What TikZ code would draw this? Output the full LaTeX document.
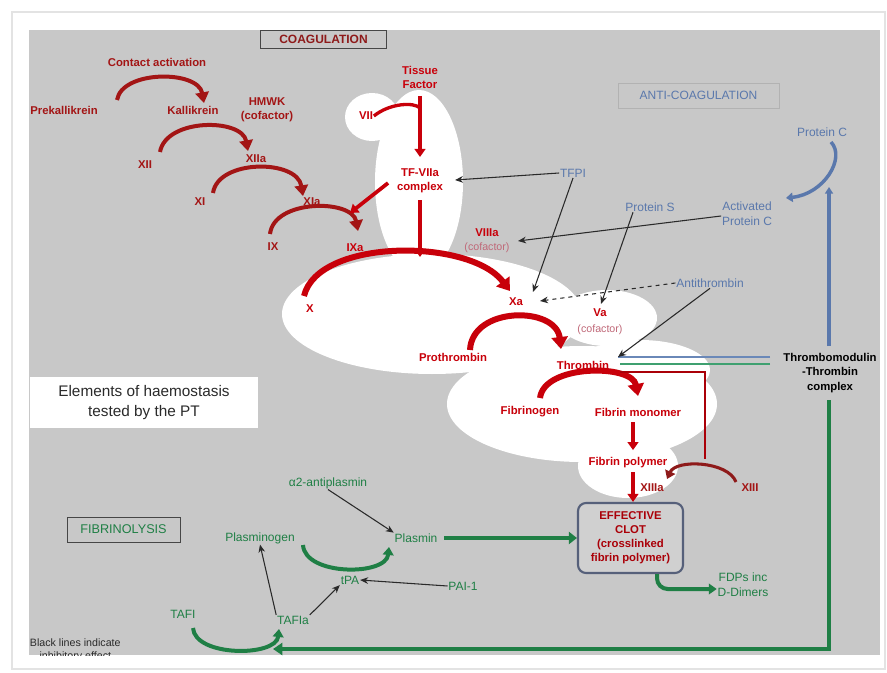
\documentclass[tikz,border=0pt]{standalone}
\usepackage{fontspec}
\setmainfont{Liberation Sans}
\usetikzlibrary{arrows.meta}
\definecolor{panel}{HTML}{C8C8C8}
\definecolor{cred}{HTML}{C8000A}
\definecolor{dred}{HTML}{A31515}
\definecolor{xred}{HTML}{8E1A1A}
\definecolor{cpink}{HTML}{C06878}
\definecolor{cblue}{HTML}{5A78AC}
\definecolor{lblue}{HTML}{6A88B8}
\definecolor{cgreen}{HTML}{1F7F45}
\definecolor{tgreen}{HTML}{3FA070}
\definecolor{bgray}{HTML}{56607A}
\definecolor{ink}{HTML}{2A2A2A}
\begin{document}
\begin{tikzpicture}[x=0.75pt,y=-0.75pt,
  lbl/.style={inner sep=0.5pt, align=center},
  rl/.style={lbl, text=cred, font=\fontsize{8.5}{10.5}\selectfont\bfseries},
  dl/.style={lbl, text=dred, font=\fontsize{8.5}{10.5}\selectfont\bfseries},
  pl/.style={lbl, text=cpink, font=\fontsize{8}{10}\selectfont},
  bl/.style={lbl, text=cblue, font=\fontsize{9}{11}\selectfont},
  gl/.style={lbl, text=cgreen, font=\fontsize{9}{11}\selectfont},
  kl/.style={lbl, text=black, font=\fontsize{8.5}{11}\selectfont\bfseries},
  titlebox/.style={draw=#1, line width=0.7pt, inner sep=0pt},
  redarc/.style={draw=dred, line width=3pt, -{Triangle[length=8pt,width=10pt]}},
  bigarc/.style={draw=cred, line width=4.5pt, -{Triangle[length=9pt,width=12pt]}},
  redarrow/.style={draw=cred, line width=2.8pt, -{Triangle[length=6pt,width=8pt]}},
  greenarc/.style={draw=cgreen, line width=3pt, -{Triangle[length=6pt,width=8pt]}},
  inhib/.style={draw=ink, line width=0.8pt, -{Stealth[length=6pt,width=5pt]}},
  blob/.style={fill=white}
]
\useasboundingbox (0,0) rectangle (887,673);
\fill[white] (0,0) rectangle (887,673);
\draw[gray!22, line width=1.2pt] (12,12) rectangle (885,669);
\fill[panel] (29,30) rectangle (880,655);

% white regions
\fill[blob] (419,182) ellipse [x radius=44, y radius=92];
\fill[blob] (372,117) ellipse [x radius=27, y radius=24];
\fill[blob] (432,314) ellipse [x radius=150, y radius=60];
\fill[blob] (520,300) ellipse [x radius=28, y radius=22];
\fill[blob] (607,318) ellipse [x radius=50, y radius=28];
\fill[blob] (582,404) ellipse [x radius=135, y radius=58];
\fill[blob] (640,370) ellipse [x radius=70, y radius=30];
\fill[blob] (628,466) ellipse [x radius=50, y radius=32];

% titled boxes
\node[titlebox=gray!55!black, minimum width=95pt, minimum height=13.5pt, text=xred,
      font=\fontsize{9}{10}\selectfont\bfseries] (coag) at (323.5,39) {COAGULATION};
\node[titlebox=gray!60, minimum width=120.75pt, minimum height=18.75pt, text=cblue,
      font=\fontsize{9}{10}\selectfont] (anti) at (698.5,95.5) {ANTI-COAGULATION};
\node[titlebox=gray!55!black, minimum width=84.75pt, minimum height=18.75pt, text=cgreen,
      font=\fontsize{9.5}{10}\selectfont] (fibr) at (123.5,529.5) {FIBRINOLYSIS};
\node[fill=white, minimum width=171pt, minimum height=38.25pt, align=center, text=ink,
      font=\fontsize{11.5}{15}\selectfont] (elem) at (144,402.5) {Elements of haemostasis\\tested by the PT};

% contact pathway labels
\node[dl] (ca) at (157,62) {Contact activation};
\node[dl] (pk) at (64,110) {Prekallikrein};
\node[dl] (kal) at (193,110) {Kallikrein};
\node[dl] (hmwk) at (267,110) {HMWK\\(cofactor)};
\node[dl] (xii) at (145,165) {XII};
\node[dl] (xiia) at (256,159) {XIIa};
\node[dl] (xi) at (200,202) {XI};
\node[dl] (xia) at (312,202) {XIa};
\node[dl] (ix) at (273,247) {IX};
\node[rl] (ixa) at (355,248) {IXa};

% extrinsic / common labels
\node[rl] (tf) at (420,77) {Tissue\\Factor};
\node[rl] (vii) at (366,116) {VII};
\node[rl] (tfvii) at (420,181) {TF-VIIa\\complex};
\node[rl] (viii) at (487,233) {VIIIa};
\node[pl] (cof1) at (487,248) {(cofactor)};
\node[rl] (x) at (310,309) {X};
\node[rl] (xa) at (516,302) {Xa};
\node[rl] (pro) at (453,357) {Prothrombin};
\node[rl] (thr) at (583,365) {Thrombin};
\node[rl] (va) at (600,313) {Va};
\node[pl] (cof2) at (600,330) {(cofactor)};
\node[rl] (fgn) at (530,412) {Fibrinogen};
\node[rl] (fmono) at (638,412) {Fibrin monomer};
\node[rl] (fpoly) at (628,463) {Fibrin polymer};
\node[dl] (xiiia) at (652,488) {XIIIa};
\node[dl] (xiii) at (750,488) {XIII};
\node[draw=bgray, line width=1.6pt, rounded corners=6pt, fill=panel!85!white,
      minimum width=78.75pt, minimum height=52.5pt, inner sep=0pt] (clot) at (630.5,538) {};
\node[rl, text=cred!85!black] (clottxt) at (630.5,538) {EFFECTIVE\\CLOT\\(crosslinked\\fibrin polymer)};

% anticoagulation labels
\node[bl] (tfpi) at (573,173) {TFPI};
\node[bl] (ps) at (650,207) {Protein S};
\node[bl] (apc) at (747,214) {Activated\\Protein C};
\node[bl] (pc) at (822,132) {Protein C};
\node[bl] (at) at (710,283) {Antithrombin};
\node[kl] (tm) at (830,373) {Thrombomodulin\\-Thrombin\\complex};

% fibrinolysis labels
\node[gl] (a2) at (328,483) {α2-antiplasmin};
\node[gl] (plg) at (260,538) {Plasminogen};
\node[gl] (plm) at (416,538) {Plasmin};
\node[gl] (tpa) at (350,580) {tPA};
\node[gl] (pai) at (463,586) {PAI-1};
\node[gl] (tafi) at (183,614) {TAFI};
\node[gl] (tafia) at (293,620) {TAFIa};
\node[gl] (fdp) at (743,585) {FDPs inc\\D-Dimers};

\begin{scope}
\clip (29,630) rectangle (300,655);
\node[lbl, text=ink, font=\fontsize{8}{10}\selectfont, anchor=west] (note) at (29,650) {Black lines indicate\\inhibitory effect};
\end{scope}

% ---- coordinates for connector ends
\coordinate (c1s) at (117,100); \coordinate (c1e) at (204,103);
\coordinate (c2s) at (160,152); \coordinate (c2e) at (248,151);
\coordinate (c3s) at (213,193); \coordinate (c3e) at (303,196);
\coordinate (c4s) at (270,234); \coordinate (c4e) at (358,231);
\coordinate (c5s) at (304,296); \coordinate (c5e) at (510,291);
\coordinate (c6s) at (470,350); \coordinate (c6e) at (561,349);
\coordinate (c7s) at (540,398); \coordinate (c7e) at (638,396);
\coordinate (c8s) at (736,482); \coordinate (c8e) at (667,479);
\coordinate (c9s) at (303,545); \coordinate (c9e) at (389,547);
\coordinate (c10s) at (193,628); \coordinate (c10e) at (279,629);
\coordinate (c11s) at (831,142); \coordinate (c11e) at (786,198);
\coordinate (tftop) at (420,96); \coordinate (tfjoin) at (420,108);
\coordinate (tfbot) at (420,157);
\coordinate (cxbot) at (420,257);
\coordinate (ixhit) at (350,213);
\coordinate (thrR) at (620,372); \coordinate (xiiiTop) at (705,459);
\coordinate (tmB) at (770,357); \coordinate (tmG) at (770,364);
\coordinate (thrB) at (618,357); \coordinate (thrG) at (620,364);
\coordinate (bluetop) at (829,187); \coordinate (bluebot) at (829,346);
\coordinate (greentop) at (829,400); \coordinate (greencorner) at (829,649);
\coordinate (tafihit) at (273,649);

% ---- red coagulation arcs
\draw[redarc] (c1s) .. controls (122,70) and (198,70) .. (c1e);
\draw[redarc] (c2s) .. controls (166,118) and (242,118) .. (c2e);
\draw[redarc] (c3s) .. controls (218,159) and (297,159) .. (c3e);
\draw[redarc] (c4s) .. controls (274,199) and (352,199) .. (c4e);
\draw[bigarc] (c5s) .. controls (318,238) and (470,238) .. (c5e);
\draw[bigarc] (c6s) .. controls (472,306) and (556,306) .. (c6e);
\draw[bigarc] (c7s) .. controls (544,364) and (632,364) .. (c7e);
\draw[draw=xred, line width=2.3pt, -{Triangle[length=6pt,width=8pt]}]
  (c8s) .. controls (728,461) and (676,459) .. (c8e);

% TF / VII
\draw[draw=cred, line width=2.5pt] (vii.east) .. controls (390,103) and (414,102) .. (tfjoin);
\draw[redarrow] (tftop) -- (tfbot);
\draw[redarrow] (tfvii.south) ++(0,6) coordinate (tfvs) (tfvs) -- (cxbot);
\draw[redarrow] (tfvii.west) ++(-8,2) coordinate (tfvw) (tfvw) -- (ixhit);

% fibrin arrows
\draw[redarrow] (fmono.south) ++(-5,5) coordinate (fms) (fms) -- ++(0,28) coordinate (fme);
\draw[redarrow] (fpoly.south) ++(5,3) coordinate (fps) (fps) -- (clot.north -| fps);

% thrombin -> XIII thin red
\draw[draw=cred!85!black, line width=1.4pt] (thrR) -- (705,372) -- (xiiiTop);

% thrombomodulin lines
\draw[draw=lblue, line width=1.5pt] (tmB) -- (thrB);
\draw[draw=tgreen, line width=1.5pt] (tmG) -- (thrG);
\draw[draw=cblue, line width=2.4pt, -{Triangle[length=5pt,width=6pt]}] (bluebot) -- (bluetop);
\draw[draw=cgreen, line width=2.4pt, -{Triangle[length=7pt,width=9pt]}] (greentop) -- (greencorner) -- (tafihit);

% Protein C arc
\draw[draw=cblue, line width=2.6pt, -{Triangle[length=5pt,width=7pt]}]
  (c11s) .. controls (846,158) and (824,194) .. (c11e);

% fibrinolysis
\draw[greenarc] (c9s) .. controls (305,576) and (386,576) .. (c9e);
\draw[greenarc] (c10s) .. controls (195,657) and (276,657) .. (c10e);
\draw[draw=cgreen, line width=3.2pt, -{Triangle[length=6pt,width=9pt]}] (plm.east) ++(6,0) coordinate (plms) (plms) -- (clot.west |- plms);
\draw[draw=cgreen, line width=3pt, rounded corners=8pt, -{Triangle[length=6pt,width=8pt]}]
  (clot.south -| 657,0) -- (657,589) -- (fdp.west |- 0,589);

% inhibitory / black arrows
\draw[inhib] (tfpi.west) -- (455,180);
\draw[inhib] (tfpi.south) -- (533,292);
\draw[inhib] (apc.west) ++(0,2) coordinate (apcw) (apcw) -- (518,241);
\draw[inhib] (ps.south) ++(-17,0) coordinate (pss) (pss) -- (601,304);
\draw[inhib, dashed] (at.west) -- (540,301);
\draw[inhib] (at.south) -- (thrB);
\draw[inhib] (a2.south) -- (plm.north west);
\draw[inhib] (pai.west) -- (tpa.east);
\draw[inhib] (tafia.north west) -- (plg.south);
\draw[inhib] (tafia.north east) -- (tpa.south west);
\end{tikzpicture}
\end{document}
